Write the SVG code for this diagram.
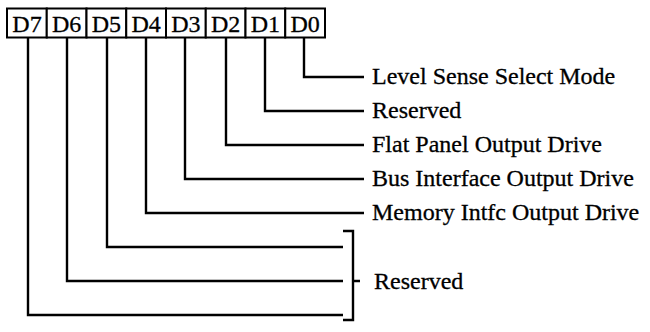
<svg xmlns="http://www.w3.org/2000/svg" width="650" height="332" viewBox="0 0 650 332">
<style>
.box{fill:#fff;stroke:#000;stroke-width:2}
.bl{font-family:"Liberation Serif","Times New Roman",serif;font-size:24px;fill:#000;stroke:#000;stroke-width:0.3;text-anchor:middle}
.lbl{font-family:"Liberation Serif","Times New Roman",serif;font-size:24px;fill:#000;stroke:#000;stroke-width:0.3}
.ln{fill:none;stroke:#000;stroke-width:2.4}
</style>
<rect width="650" height="332" fill="#fff"/>
<g id="register">
<g id="bit-D7"><rect class="box" x="7" y="8.5" width="39.75" height="29"/><text class="bl" x="27" y="32">D7</text></g>
<g id="bit-D6"><rect class="box" x="46.75" y="8.5" width="39.75" height="29"/><text class="bl" x="66.6" y="32">D6</text></g>
<g id="bit-D5"><rect class="box" x="86.5" y="8.5" width="39.75" height="29"/><text class="bl" x="106.4" y="32">D5</text></g>
<g id="bit-D4"><rect class="box" x="126.25" y="8.5" width="39.75" height="29"/><text class="bl" x="146.1" y="32">D4</text></g>
<g id="bit-D3"><rect class="box" x="166" y="8.5" width="39.75" height="29"/><text class="bl" x="185.9" y="32">D3</text></g>
<g id="bit-D2"><rect class="box" x="205.75" y="8.5" width="39.75" height="29"/><text class="bl" x="225.6" y="32">D2</text></g>
<g id="bit-D1"><rect class="box" x="245.5" y="8.5" width="39.75" height="29"/><text class="bl" x="265.4" y="32">D1</text></g>
<g id="bit-D0"><rect class="box" x="285.25" y="8.5" width="39.75" height="29"/><text class="bl" x="305.1" y="32">D0</text></g>
</g>
<g id="connectors">
<path class="ln" d="M304 37.5 V77 H364"/>
<path class="ln" d="M265 37.5 V111 H364"/>
<path class="ln" d="M226 37.5 V145 H364"/>
<path class="ln" d="M185 37.5 V179 H364"/>
<path class="ln" d="M146 37.5 V213 H364"/>
<path class="ln" d="M107 37.5 V247 H343"/>
<path class="ln" d="M67 37.5 V281 H343"/>
<path class="ln" d="M28 37.5 V315 H343"/>
<path class="ln" d="M343 231 H353 V320 H343 M353 281 H360"/>
</g>
<g id="labels">
<text class="lbl" x="372" y="84">Level Sense Select Mode</text>
<text class="lbl" x="372" y="118">Reserved</text>
<text class="lbl" x="372" y="152">Flat Panel Output Drive</text>
<text class="lbl" x="372" y="186">Bus Interface Output Drive</text>
<text class="lbl" x="372" y="220">Memory Intfc Output Drive</text>
<text class="lbl" x="374" y="289">Reserved</text>
</g>
</svg>
